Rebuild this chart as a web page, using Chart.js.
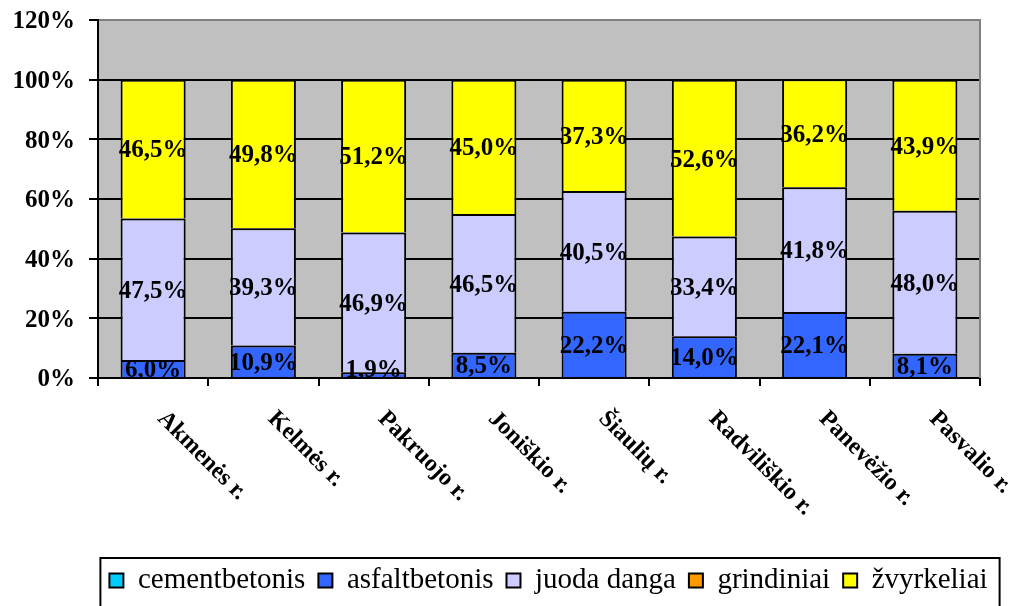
<!DOCTYPE html>
<html>
<head>
<meta charset="utf-8">
<script src="https://cdn.jsdelivr.net/npm/chart.js@4.4.1/dist/chart.umd.min.js"></script>
<style>
  html, body { margin: 0; padding: 0; background: #fff; }
  #wrap { width: 1015px; height: 606px; }
</style>
</head>
<body>
<div id="wrap"><canvas id="c" width="1015" height="606"></canvas></div>
<script>
const categories = ['Akmenės r.', 'Kelmės r.', 'Pakruojo r.', 'Joniškio r.', 'Šiaulių r.', 'Radviliškio r.', 'Panevėžio r.', 'Pasvalio r.'];
const seriesNames = ['cementbetonis', 'asfaltbetonis', 'juoda danga', 'grindiniai', 'žvyrkeliai'];
const cementbetonis = [0, 0, 0, 0, 0, 0, 0, 0];
const asfaltbetonis = [6.0, 10.9, 1.9, 8.5, 22.2, 14.0, 22.1, 8.1];
const juodaDanga = [47.5, 39.3, 46.9, 46.5, 40.5, 33.4, 41.8, 48.0];
const grindiniai = [0, 0, 0, 0, 0, 0, 0, 0];
const zvyrkeliai = [46.5, 49.8, 51.2, 45.0, 37.3, 52.6, 36.2, 43.9];
const yTickValues = [0, 20, 40, 60, 80, 100, 120];

const seriesColors = ['#00CCFF', '#3366FF', '#CCCCFF', '#FF9900', '#FFFF00'];
const seriesData = [cementbetonis, asfaltbetonis, juodaDanga, grindiniai, zvyrkeliai];

const FONT = 'Liberation Serif, Times New Roman, serif';

const decorPlugin = {
  id: 'decor',
  afterLayout(chart) {
    // legend row is offset to the right in the original
    if (chart.legend) chart.legend.left = 82;
  },
  beforeDraw(chart) {
    const { ctx, chartArea: a } = chart;
    ctx.save();
    ctx.fillStyle = '#ffffff';
    ctx.fillRect(0, 0, chart.width, chart.height);
    ctx.fillStyle = '#C0C0C0';
    ctx.fillRect(a.left, a.top, a.right - a.left, a.bottom - a.top);
    ctx.restore();
  },
  afterDatasetsDraw(chart) {
    const { ctx, chartArea: a } = chart;
    ctx.save();
    ctx.beginPath();
    ctx.rect(a.left, a.top, a.right - a.left, a.bottom - a.top);
    ctx.clip();
    ctx.fillStyle = '#000';
    ctx.font = 'bold 25px ' + FONT;
    ctx.textAlign = 'center';
    ctx.textBaseline = 'middle';
    chart.data.datasets.forEach((ds, di) => {
      const meta = chart.getDatasetMeta(di);
      meta.data.forEach((bar, i) => {
        const v = ds.data[i];
        if (!v) return;
        const p = bar.getProps(['x', 'y', 'base'], true);
        const cy = Math.min((p.y + p.base) / 2, a.bottom - 9) + 2;
        ctx.fillText(v.toFixed(1).replace('.', ',') + '%', p.x, cy);
      });
    });
    ctx.restore();
  },
  afterDraw(chart) {
    const { ctx, chartArea: a } = chart;
    const xs = chart.scales.x;
    ctx.save();
    // right plot border (gray)
    ctx.strokeStyle = '#808080';
    ctx.lineWidth = 2;
    ctx.beginPath();
    ctx.moveTo(a.right, a.top - 1);
    ctx.lineTo(a.right, a.bottom);
    ctx.stroke();
    // rotated category labels
    ctx.fillStyle = '#000';
    ctx.font = 'bold 24px ' + FONT;
    ctx.textAlign = 'left';
    ctx.textBaseline = 'middle';
    categories.forEach((lab, i) => {
      const x = xs.getPixelForValue(i);
      ctx.save();
      ctx.translate(x + 8, xs.top + 37);
      ctx.rotate(Math.PI / 4);
      ctx.fillText(lab, 0, 0);
      ctx.restore();
    });
    // legend frame
    const lg = chart.legend;
    if (lg && lg.legendHitBoxes && lg.legendHitBoxes.length) {
      const hb = lg.legendHitBoxes;
      const first = hb[0], last = hb[hb.length - 1];
      const left = first.left - 9;
      const right = last.left + last.width + 12;
      const top = lg.top + 5;
      ctx.strokeStyle = '#000';
      ctx.lineWidth = 2;
      ctx.strokeRect(left, top, right - left, chart.height - top + 10);
    }
    ctx.restore();
  }
};

const datasets = seriesNames.map((name, k) => ({
  label: name,
  data: seriesData[k],
  backgroundColor: seriesColors[k],
  borderColor: '#000',
  borderWidth: 2,
  categoryPercentage: 1.0,
  barPercentage: 0.59
}));

new Chart(document.getElementById('c'), {
  type: 'bar',
  data: { labels: categories, datasets },
  plugins: [decorPlugin],
  options: {
    responsive: false,
    animation: false,
    devicePixelRatio: 1,
    layout: { padding: { left: 12, right: 0, top: 20, bottom: 1 } },
    plugins: {
      tooltip: { enabled: false },
      legend: {
        position: 'bottom',
        align: 'center',
        labels: {
          font: { family: FONT, size: 29 },
          color: '#000',
          boxWidth: 14,
          boxHeight: 14,
          padding: 13
        }
      }
    },
    scales: {
      x: {
        stacked: true,
        offset: true,
        afterFit(s) { s.height = 175; },
        ticks: { display: false },
        grid: {
          display: true,
          drawOnChartArea: false,
          drawTicks: true,
          tickLength: 8,
          color: '#000',
          lineWidth: 2,
          offset: true
        },
        border: { display: true, color: '#000', width: 2 }
      },
      y: {
        stacked: true,
        min: 0,
        max: 120,
        afterFit(s) { s.width = 86; s.paddingTop = 0; s.paddingBottom = 0; },
        afterBuildTicks(s) { s.ticks = yTickValues.map(v => ({ value: v })); },
        ticks: {
          stepSize: 20,
          padding: 14,
          labelOffset: 2,
          color: '#000',
          font: { family: FONT, size: 25, weight: 'bold' },
          callback: v => v + '%'
        },
        grid: {
          color: c => (c.tick && c.tick.value === 120 ? '#808080' : '#000'),
          tickColor: '#000',
          lineWidth: 2,
          tickLength: 9,
          drawTicks: true
        },
        border: { display: true, color: '#000', width: 2 }
      },
      y2: {
        position: 'right',
        display: true,
        afterFit(s) { s.width = 35; s.paddingTop = 0; s.paddingBottom = 0; },
        ticks: { display: false },
        grid: { display: false },
        border: { display: false }
      }
    }
  }
});
</script>
</body>
</html>
